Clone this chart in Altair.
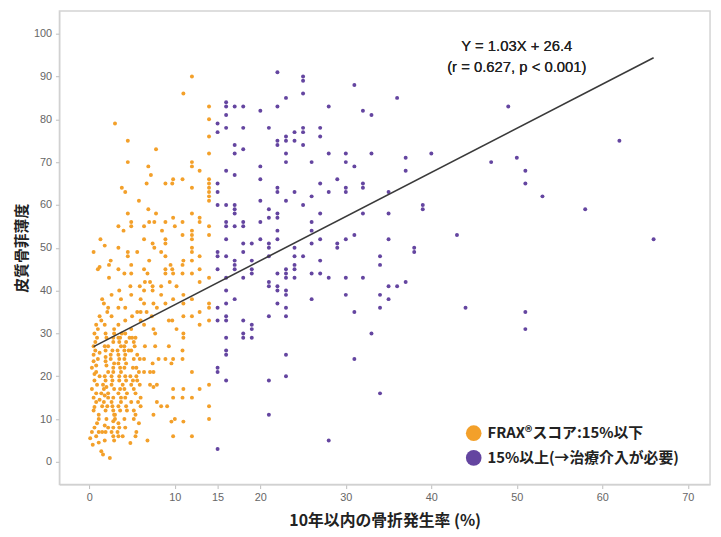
import altair as alt
import pandas as pd

# ---- data ----
orange_pts = [
    (12, 90), (11, 86), (3, 79), (14, 83), (14, 80), (14, 76), (14, 72), (4.5, 75), (7.8, 73), (4.5, 70),
    (6.9, 69), (12, 70), (12, 69), (12.9, 68), (7.2, 67), (14, 66), (14, 65), (14, 64), (14, 63), (14, 62),
    (14, 61), (9.8, 66), (9.7, 65), (10.9, 66), (8.9, 65), (6.7, 65), (12, 64), (3.8, 64), (4.2, 63), (5.8, 61),
    (4.5, 58), (6.9, 59), (7.8, 58), (12, 58), (12.9, 57), (12.9, 56), (9.8, 57), (3.4, 55), (4.9, 56), (4.9, 55),
    (7, 56), (7.6, 56), (6.4, 55), (8.9, 56), (10.9, 56), (10, 55), (14, 55), (12, 54), (12, 53), (12, 52),
    (4, 54), (8.5, 54), (10.9, 53), (14, 53), (1.3, 52), (1.8, 50.5), (6.4, 52), (7.4, 51), (7.6, 50), (8.9, 52),
    (8.9, 51), (0.5, 49), (3.4, 50), (4.5, 49), (4.5, 48), (5.6, 49), (8.4, 49), (12, 50), (12, 49), (12.9, 48),
    (2.5, 47), (4.9, 46), (7, 47), (8.9, 48), (12, 47), (1.2, 45.5), (11, 47),
    (2.3, 46), (1, 45), (3.4, 45), (4.9, 44), (4.1, 44), (6.4, 45), (6.8, 44), (8.9, 45), (8.9, 44), (9.8, 44),
    (9.5, 46), (9.7, 45), (10.9, 46), (10.9, 44), (12, 44), (12.9, 45), (14, 43), (2.3, 43),
    (6.5, 42), (7.1, 42), (7.4, 41), (7.4, 40), (5.9, 41), (6.4, 40), (4.8, 41), (3.5, 40), (4.9, 39), (8.4, 41),
    (8.4, 39), (10.2, 41), (9.4, 42), (11, 39), (12.9, 42), (2.6, 39), (1.5, 38),
    (3.7, 38), (6, 38), (6.4, 37), (7.5, 37), (8.9, 37), (9.8, 38), (11, 37), (12, 38), (14, 37), (14, 36),
    (1.7, 37), (2.2, 36), (2.1, 35), (3.4, 36), (4.2, 36), (5.6, 35), (6, 35), (6.7, 35), (7.9, 36), (12.9, 35),
    (1.2, 34), (1.4, 33), (2.6, 34), (4.2, 33), (5, 34), (6, 33), (7.3, 34), (9.3, 33), (9.7, 33), (11, 34),
    (12, 34), (14, 33), (0.8, 32), (1, 31), (3.4, 32), (4.9, 31), (6.4, 32), (7.5, 31), (7.7, 30), (10.2, 31),
    (12.9, 32),
    (1.9, 30), (2.9, 30), (3.4, 29), (3.8, 30), (4.7, 29), (5.0, 29), (5.4, 29), (5.2, 28), (11, 30), (11, 29),
    (0.7, 28), (0.5, 27), (2.2, 27), (2.8, 28), (3.5, 28), (3.7, 27), (4.1, 26), (6.5, 27), (7.7, 27), (9.3, 27),
    (10.9, 26),
    (0.5, 25), (1.2, 25.5), (1.9, 26), (2.5, 25), (3.3, 26), (3.4, 25), (3.5, 24), (4.6, 26), (4.9, 26), (4.1, 24),
    (1, 24), (1.9, 23.5), (2.5, 24), (5.9, 24), (6.4, 24), (8.1, 24), (8.9, 24), (9.8, 24), (9.6, 23), (10.9, 24),
    (7.4, 23), (0.3, 22), (2.8, 22), (5.1, 22), (5.5, 22),
    (0.8, 21), (1.2, 20), (2.2, 21), (2.6, 20), (3.7, 21), (3.5, 20), (4.8, 20), (5.1, 19), (6.4, 21), (7.1, 21),
    (7.5, 21), (12, 21), (0.6, 19), (1.6, 18), (1.9, 19), (2.6, 18), (3.9, 18), (4.9, 18), (5.2, 17), (5.6, 19),
    (7.1, 18), (7.5, 17.5), (7.9, 18), (12.9, 17), (14, 18),
    (0.3, 17), (0.8, 16), (1.4, 16), (1.7, 17), (2.2, 16), (2.2, 15), (3.4, 16), (3.7, 15), (4.4, 16), (6, 15),
    (9.8, 17), (11, 17), (9.8, 15), (10.9, 15), (12, 15), (1.2, 14.5), (1.7, 14), (2.6, 14), (3.7, 14), (4.9, 14),
    (7.9, 14), (8.4, 13), (9.1, 13), (14, 13), (1.5, 13), (2.1, 13),
    (0.5, 12), (1.1, 11), (2.8, 12), (3, 11), (4.4, 12), (5.2, 12), (5.4, 11), (6, 13), (7.5, 11), (3, 10),
    (2.8, 9.5), (1.1, 10), (14, 10), (9.6, 9.4), (10, 10), (11, 9.4),
    (0.3, 7), (0.8, 6), (1.1, 7), (0.1, 5.5), (1.5, 7), (1.9, 7), (2.2, 8), (2.8, 8), (2.6, 7), (3.4, 6),
    (3.9, 6), (4.8, 4.4), (5.5, 7), (6.8, 5), (9.8, 6), (12, 6), (1.1, 4.5),
    (1.4, 2.5), (1.6, 1.7), (2.4, 0.9),
    (3.6, 29), (3.4, 23), (3.6, 22), (3.5, 19), (3.6, 17), (3.4, 13), (3.6, 12), (3.4, 9), (3.5, 8), (3.3, 7),
    (4.2, 30), (4.3, 28), (4.1, 27), (4.2, 25), (4.3, 23), (4.1, 22), (4.2, 20), (4.3, 19), (4.1, 17), (4.2, 15),
    (4.3, 13), (4.1, 10), (4.2, 8),
    (2.9, 31), (2.8, 29), (2.7, 26), (2.9, 23), (2.8, 21), (2.7, 19), (2.9, 17), (2.8, 15), (2.7, 13), (2.9, 11),
    (2.8, 6), (2.9, 5),
    (1.8, 32), (2, 29), (1.8, 27), (1.9, 24.5), (2.0, 22.5), (1.8, 20), (2, 17.5), (1.8, 15.5), (1.9, 12), (2, 10),
    (1.8, 8.5), (1.8, 5),
    (0.6, 30), (0.9, 29), (0.7, 26), (0.5, 23.5), (0.8, 22.5), (0.6, 20.5), (0.9, 18), (0.5, 15), (0.8, 14),
    (0.6, 12.8), (0.9, 9), (0.6, 8), (0.4, 4),
    (5.3, 27), (5.6, 25), (5.2, 24), (5.8, 21), (5.5, 20), (5.9, 18), (5.4, 16), (5.7, 14), (5.2, 10), (5.8, 9),
    (5.4, 6),
]

purple_pts = [
    (22, 91), (25, 90), (25, 89), (31, 88), (23, 85), (25, 86), (36, 85), (16, 84), (16, 83), (17, 83),
    (18, 83), (20, 82), (22, 83), (28, 83), (32, 82), (33, 81), (15, 79), (15, 77), (16, 81), (16, 78),
    (18, 78), (21, 78), (24, 77), (25, 78), (25, 77), (27, 78), (27, 76), (22, 75), (22, 74), (23, 76),
    (23, 75), (24, 75), (25, 74), (17, 74), (17, 72), (18, 73), (23, 72), (23, 70), (28, 72), (30, 72),
    (30, 70), (31, 69), (33, 72), (37, 71), (37, 68), (40, 72), (16, 68), (17, 67), (20, 69), (20, 66),
    (26, 70), (27, 65), (29, 66), (15, 65), (15, 63), (22, 64), (22, 63), (24, 63), (26, 62), (28, 63),
    (30, 64), (30, 63), (32, 65), (32, 64), (35, 63), (20, 61), (23, 61), (15, 60), (16, 60), (17, 60),
    (17, 59), (17, 58), (25, 60), (39, 60), (39, 59), (21, 59), (21, 57), (22, 58), (22, 57), (20, 56),
    (26, 56), (27, 58), (32, 58), (35, 58), (16, 56), (16, 55), (17, 55), (18, 56), (18, 55), (22, 54),
    (26, 54), (16, 52), (18, 51), (19, 51), (20, 52), (21, 51), (21, 50), (22, 52), (24, 50), (25, 48),
    (24, 48), (27, 52), (29, 51), (29, 50), (30, 52), (31, 53), (35, 52), (38, 50), (38, 49), (15, 49),
    (15, 48), (16, 48), (17, 47), (17, 46), (18, 49), (19, 47), (21, 48), (23, 45), (24, 46), (27, 47),
    (34, 48), (34, 46), (15, 45), (26, 51),
    (17, 45), (19, 45), (19, 44), (18, 43), (22, 44), (23, 44), (23, 43), (24, 45), (24, 43), (26, 44),
    (27, 44), (28, 43), (30, 43), (32, 43), (21, 42), (21, 41), (22, 41), (22, 40), (23, 40), (23, 39),
    (35, 41), (36, 41), (37, 42), (16, 40), (17, 38), (16, 37), (15, 36), (16, 34), (16, 33), (15, 33),
    (18, 33), (19, 32), (19, 31), (18, 30), (18, 29), (19, 29), (16, 29), (22, 37), (23, 36), (21, 34),
    (23, 34), (26, 38), (30, 39), (31, 35), (34, 39), (34, 36), (35, 38), (33, 30), (16, 26), (16, 25),
    (15, 22), (15, 21), (16, 19), (23, 25), (31, 24), (21, 19), (23, 20), (34, 16), (21, 11), (28, 5),
    (15, 3), (16, 43),
    (49, 83), (62, 75), (47, 70), (50, 71), (51, 68), (51, 65), (53, 62), (58, 59), (43, 53), (66, 52),
    (44, 36), (51, 35), (51, 31),
]

group_labels = ["FRAX®スコア:15%以下", "15%以上(→治療介入が必要)"]
group_colors = ["#F3A02A", "#6445A0"]

x_ticks = [0, 10, 15, 20, 30, 40, 50, 60, 70]
y_ticks = [0, 10, 20, 30, 40, 50, 60, 70, 80, 90, 100]

slope, intercept = 1.03, 26.4
line_x = [0.5, 66]
eq_lines = ["Y = 1.03X + 26.4", "(r = 0.627, p < 0.001)"]

x_title = "10年以内の骨折発生率 (%)"
y_title = "皮質骨菲薄度"

# ---- tables ----
rows = [{"x": x, "y": y, "group": group_labels[0]} for x, y in orange_pts]
rows += [{"x": x, "y": y, "group": group_labels[1]} for x, y in purple_pts]
df = pd.DataFrame(rows)
df_line = pd.DataFrame({"x": line_x, "y": [slope * v + intercept for v in line_x]})

xscale = alt.Scale(domain=[-3.5, 72.6], nice=False, zero=False)
yscale = alt.Scale(domain=[-5.3, 105.3], nice=False, zero=False)

points = alt.Chart(df).mark_point(filled=True, size=16, opacity=1).encode(
    x=alt.X("x:Q", scale=xscale,
            axis=alt.Axis(values=x_ticks, title=x_title, grid=False)),
    y=alt.Y("y:Q", scale=yscale,
            axis=alt.Axis(values=y_ticks, title=y_title, grid=False)),
    color=alt.Color(
        "group:N",
        scale=alt.Scale(domain=group_labels, range=group_colors),
        legend=alt.Legend(
            title=None, orient="none", legendX=411, legendY=419,
            symbolType="circle", symbolSize=250, symbolStrokeWidth=0,
            symbolOpacity=1, labelFont="Noto Sans CJK JP", labelFontSize=15,
            labelFontWeight="bold", labelColor="#222222", labelOffset=6,
            rowPadding=9, padding=0, labelLimit=400,
        ),
    ),
)

line = alt.Chart(df_line).mark_line(color="#3a3a3a", strokeWidth=1.6).encode(
    x=alt.X("x:Q", scale=xscale), y=alt.Y("y:Q", scale=yscale)
)

eq1 = alt.Chart(df_line).mark_text(
    font="Liberation Sans", fontSize=15, color="#222222", align="center", baseline="middle"
).encode(x=alt.datum(50.0), y=alt.datum(97.0), text=alt.value(eq_lines[0]))

eq2 = alt.Chart(df_line).mark_text(
    font="Liberation Sans", fontSize=15, color="#222222", align="center", baseline="middle"
).encode(x=alt.datum(50.0), y=alt.datum(92.1), text=alt.value(eq_lines[1]))

chart = alt.layer(points, line, eq1, eq2).properties(
    width=658, height=479,
    padding={"left": 52, "top": 0, "right": 3, "bottom": 46},
    autosize=alt.AutoSizeParams(type="none"),
).configure_view(
    stroke="#d4d4d4", strokeWidth=1.5
).configure_axis(
    domainColor="#cfcfcf", tickColor="#bdbdbd", tickSize=4,
    labelColor="#666666", labelFont="Liberation Sans", labelFontSize=11,
    titleFont="Noto Sans CJK JP", titleFontWeight="bold", titleColor="#222222",
).configure_axisX(
    labelPadding=3, titleFontSize=16, titlePadding=10,
).configure_axisY(
    labelPadding=4, titleFontSize=15, titlePadding=4,
)

chart.save("out.html", embed_options={"renderer": "svg", "actions": False})
